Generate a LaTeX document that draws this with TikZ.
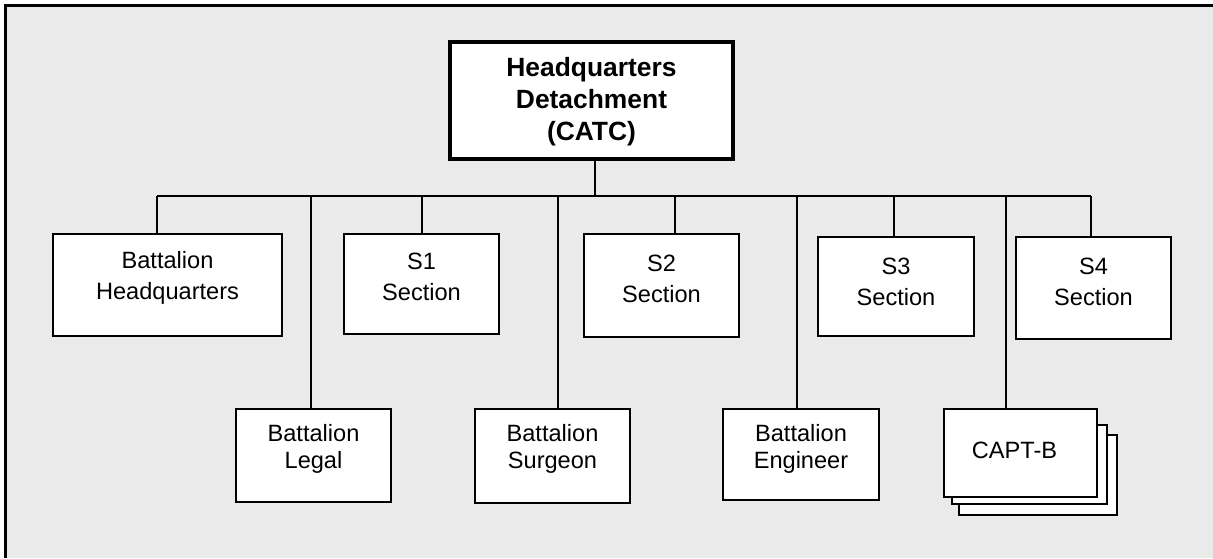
\documentclass[tikz,border=0pt]{standalone}
\usepackage{fontspec}
\setmainfont{Liberation Sans}
\usetikzlibrary{fit,calc}
\definecolor{panel}{HTML}{EAEAEA}
\tikzset{
  unit/.style={draw=black, fill=white, line width=1.5pt, inner sep=0pt},
  headunit/.style={draw=black, fill=white, line width=2.6pt, inner sep=0pt},
  lbl/.style={align=center, font=\fontsize{17.7pt}{23.3pt}\selectfont, inner sep=0pt},
  lbllow/.style={align=center, font=\fontsize{17.7pt}{20.2pt}\selectfont, inner sep=0pt},
  headlbl/.style={align=center, font=\fontsize{19.8pt}{23.8pt}\selectfont\bfseries, inner sep=0pt},
  link/.style={draw=black, line width=1.1pt},
}
\begin{document}
\begin{tikzpicture}[x=0.75pt, y=-0.75pt]
  % page and grey panel (only its left and top edges show)
  \useasboundingbox (0,0) rectangle (1213,558);
  \fill[white] (0,0) rectangle (1213,558);
  \fill[panel] (5.5,5.5) rectangle (1213,558);
  \draw[line width=1.9pt] (5.5,558) -- (5.5,5.5) -- (1213,5.5);

  % top unit
  \node[headunit, fit={(450,42) (733,159)}] (hqd) {};
  \node[headlbl] at ($(hqd.center)+(0,1)$) {Headquarters\\Detachment\\(CATC)};

  % upper row
  \node[unit, fit={(53,234) (282,336)}] (bhq) {};
  \node[unit, fit={(344,234) (499,334)}] (sone) {};
  \node[unit, fit={(584,234) (739,337)}] (stwo) {};
  \node[unit, fit={(818,237) (974,336)}] (sthree) {};
  \node[unit, fit={(1016,237) (1171,339)}] (sfour) {};

  % lower row
  \node[unit, fit={(236,409) (391,502)}] (legal) {};
  \node[unit, fit={(475,409) (630,503)}] (surgeon) {};
  \node[unit, fit={(723,409) (879,500)}] (engineer) {};
  % stacked CAPT-B teams
  \node[unit, fit={(959,435) (1117,515)}] (captc) {};
  \node[unit, fit={(952,425) (1107,504)}] (captb) {};
  \node[unit, fit={(944,409) (1097,497)}] (capt) {};

  % labels
  \node[lbl] at ($(bhq.center)+(0,-7)$) {Battalion\\Headquarters};
  \node[lbl] at ($(sone.center)+(0,-7)$) {S1\\Section};
  \node[lbl] at ($(stwo.center)+(0,-7)$) {S2\\Section};
  \node[lbl] at ($(sthree.center)+(0,-5)$) {S3\\Section};
  \node[lbl] at ($(sfour.center)+(0,-6)$) {S4\\Section};
  \node[lbllow] at ($(legal.center)+(0,-7)$) {Battalion\\Legal};
  \node[lbllow] at ($(surgeon.center)+(0,-7)$) {Battalion\\Surgeon};
  \node[lbllow] at ($(engineer.center)+(0,-6)$) {Battalion\\Engineer};
  \node[lbllow] at ($(capt.center)+(-6,-3)$) {CAPT-B};

  % bus taps
  \coordinate (hub) at (595,196);
  \coordinate (t1) at (157,196);
  \coordinate (t2) at (311,196);
  \coordinate (t3) at (422,196);
  \coordinate (t4) at (558,196);
  \coordinate (t5) at (675,196);
  \coordinate (t6) at (797,196);
  \coordinate (t7) at (894,196);
  \coordinate (t8) at (1006,196);
  \coordinate (t9) at (1091,196);

  % connectors
  \draw[link] (hub |- hqd.south) -- (hub);
  \draw[link] (t1) -- (t9);
  \draw[link] (t1) -- (t1 |- bhq.north);
  \draw[link] (t2) -- (t2 |- legal.north);
  \draw[link] (t3) -- (t3 |- sone.north);
  \draw[link] (t4) -- (t4 |- surgeon.north);
  \draw[link] (t5) -- (t5 |- stwo.north);
  \draw[link] (t6) -- (t6 |- engineer.north);
  \draw[link] (t7) -- (t7 |- sthree.north);
  \draw[link] (t8) -- (t8 |- capt.north);
  \draw[link] (t9) -- (t9 |- sfour.north);
\end{tikzpicture}
\end{document}
